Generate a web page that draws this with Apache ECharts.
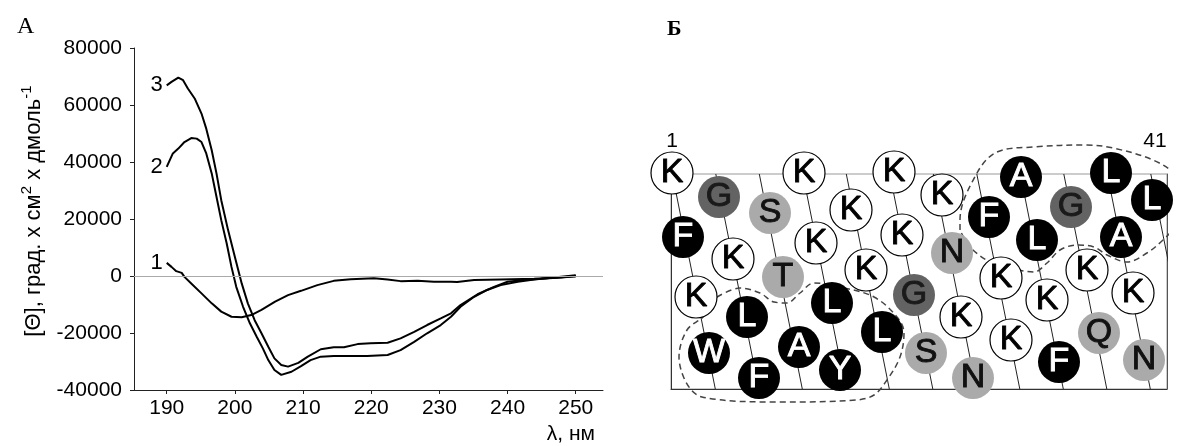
<!DOCTYPE html>
<html>
<head>
<meta charset="utf-8">
<script src="https://cdn.jsdelivr.net/npm/echarts@6.0.0/dist/echarts.min.js"></script>
<style>
  html, body { margin: 0; padding: 0; background: #fff; }
  #chart { width: 1179px; height: 446px; }
</style>
</head>
<body>
<div id="chart"></div>
<script>
// --- panel A: CD spectra, wavelength (nm) / molar ellipticity ---
const wl1 = [190.0, 190.7, 191.4, 192.2, 192.6, 193.6, 195.1, 196.6, 198.0, 199.5, 201.0, 202.4, 203.9, 205.9, 207.8, 209.7, 212.1, 214.5, 217.0, 220.4, 222.4, 224.3, 226.8, 229.2, 231.7, 231.9, 232.6, 235.1, 239.0, 243.9, 247.0, 250.0];
const theta1 = [4600, 3200, 1700, 1100, -300, -2600, -6100, -9600, -12500, -14300, -14500, -13700, -11900, -9000, -6700, -5200, -3200, -1700, -1100, -800, -1200, -1800, -1700, -2000, -2000, -1400, -2100, -1400, -1200, -1000, -600, -200];

const wl2 = [190.0, 190.9, 191.7, 192.6, 193.6, 194.4, 195.1, 195.8, 196.6, 197.3, 198.0, 198.8, 199.5, 200.2, 201.2, 202.2, 203.2, 204.1, 204.9, 205.8, 206.8, 208.3, 209.7, 211.1, 212.6, 214.5, 217.0, 219.4, 222.4, 224.3, 226.3, 228.2, 230.2, 231.7, 233.1, 235.1, 237.0, 239.0, 241.5, 243.9, 246.8, 250.0];
const theta2 = [38300, 43000, 44700, 47000, 48400, 48200, 47000, 43000, 36000, 27800, 19600, 11400, 3200, -3800, -10800, -16600, -21300, -25400, -29500, -33000, -34700, -33600, -31600, -29500, -28300, -28100, -28100, -28100, -27700, -26000, -23100, -20100, -17200, -14300, -10800, -7300, -4900, -3200, -2000, -1200, -500, 300];

const wl3 = [190.0, 190.7, 191.7, 192.4, 193.1, 194.1, 195.1, 195.8, 196.6, 197.3, 198.0, 199.0, 200.0, 201.0, 201.9, 202.9, 203.9, 204.9, 205.8, 206.8, 207.8, 209.3, 210.7, 212.6, 214.5, 216.0, 218.0, 219.9, 222.4, 224.3, 226.3, 228.2, 230.2, 231.7, 233.1, 235.6, 238.0, 240.0, 242.4, 244.9, 247.8, 250.0];
const theta3 = [66900, 68100, 69600, 68700, 65800, 62300, 57000, 51700, 44100, 36000, 26600, 16100, 6700, -2600, -9600, -15500, -20100, -24800, -28900, -31200, -31800, -30500, -28300, -25700, -25000, -25000, -23900, -23600, -23400, -21900, -19600, -17200, -14900, -13100, -10200, -6400, -3800, -2000, -1400, -1000, -500, 100];

const curveNames = ['1', '2', '3'];
const xTicks = [190, 200, 210, 220, 230, 240, 250];

// --- panel Б: helical net (units: px inside the net frame, y down) ---
const netLetters = ['K', 'G', 'S', 'K', 'F', 'K', 'T', 'K', 'K', 'K', 'K', 'L', 'A', 'L', 'K', 'K', 'K', 'W', 'F', 'Y', 'L', 'G', 'N', 'F', 'A', 'S', 'K', 'K', 'L', 'G', 'L', 'N', 'K', 'K', 'K', 'A', 'L', 'F', 'Q', 'K', 'N'];
const netX = [1, 48, 99, 133, 12, 62, 112, 145, 180, 223, 25, 76, 128, 161, 195, 231, 271, 38, 88, 169, 211, 243, 281, 318, 350, 255, 290, 330, 366, 400, 440, 302, 340, 376, 416, 450, 481, 388, 428, 462, 473];
const netY = [-1, 23, 39, -1, 63, 85, 103, 69, 36, -2, 123, 143, 173, 129, 96, 61, 21, 179, 204, 196, 158, 121, 79, 43, 3, 179, 143, 104, 66, 33, -1, 204, 166, 126, 96, 63, 26, 188, 159, 119, 186];
const netLineTop = [1.3, 44.8, 88.3, 131.8, 175.3, 218.8, 262.3, 305.8, 349.3, 392.8, 436.3, 479.8];
const netLineBottom = [44.3, 87.8, 131.3, 174.8, 218.3, 261.8, 305.3, 348.8, 392.3, 435.8, 479.3, 522.8];
const patchLower = [[46, 123], [69, 114], [89, 119], [103, 128], [116, 129], [129, 119], [143, 109], [169, 113], [203, 123], [226, 143], [233, 159], [229, 183], [216, 206], [203, 221], [185, 226], [110, 228], [31, 223], [8, 183], [16, 156], [33, 142], [46, 123]];
const patchUpper = [[289, 56], [289, 46], [306, -1], [326, -22], [362, -27], [416, -29], [442, -26], [482, -14], [508, 3], [524, 26], [508, 49], [492, 66], [476, 79], [456, 88], [436, 81], [423, 73], [406, 71], [389, 76], [376, 89], [363, 98], [339, 94], [319, 88], [299, 73], [289, 56]];

const hydrophobic = ['F', 'L', 'W', 'A', 'Y'];
const polar = ['S', 'T', 'N', 'Q'];

const sans = '"Liberation Sans", Arial, sans-serif';
const serif = '"Liberation Serif", "Times New Roman", serif';

function zip(xs, ys) {
  return xs.map((x, i) => [x, ys[i]]);
}

function groupOf(letter) {
  if (letter === 'G') return 'gly';
  if (hydrophobic.includes(letter)) return 'hyd';
  if (polar.includes(letter)) return 'pol';
  return 'lys';
}

const circleStyles = {
  lys: { fill: '#ffffff', border: '#000', borderWidth: 1.2, text: '#000' },
  hyd: { fill: '#000000', border: '#000', borderWidth: 0, text: '#fff' },
  gly: { fill: '#636363', border: '#636363', borderWidth: 0, text: '#1a1a1a' },
  pol: { fill: '#aaaaaa', border: '#aaaaaa', borderWidth: 0, text: '#111' },
};

const curveSeries = [
  [wl1, theta1],
  [wl2, theta2],
  [wl3, theta3],
].map(([xs, ys], i) => ({
  type: 'line',
  name: curveNames[i],
  xAxisIndex: 0,
  yAxisIndex: 0,
  data: zip(xs, ys),
  symbol: 'circle',
  symbolSize: 0,
  lineStyle: { color: '#000', width: 2 },
  itemStyle: { color: '#000' },
  label: {
    show: true,
    position: 'left',
    distance: 4,
    fontSize: 22,
    fontFamily: sans,
    color: '#000',
    formatter: (p) => (p.dataIndex === 0 ? curveNames[i] : ''),
  },
  markLine: i === 0 ? {
    silent: true,
    symbol: ['none', 'none'],
    label: { show: false },
    lineStyle: { color: '#aaa', width: 1, type: 'solid' },
    data: [{ yAxis: 0 }],
  } : undefined,
  z: 3,
}));

const netLineSeries = netLineTop.map((top, i) => ({
  type: 'line',
  xAxisIndex: 1,
  yAxisIndex: 1,
  data: [[top, 0], [netLineBottom[i], 215]],
  symbol: 'none',
  clip: true,
  lineStyle: { color: '#222', width: 1 },
  z: 1,
}));

const patchSeries = [patchLower, patchUpper].map((pts) => ({
  type: 'line',
  xAxisIndex: 1,
  yAxisIndex: 1,
  data: pts,
  symbol: 'none',
  smooth: 0.35,
  clip: false,
  lineStyle: { color: '#444', width: 1.5, type: [6, 4] },
  z: 2,
}));

const circleSeries = Object.keys(circleStyles).map((g) => {
  const st = circleStyles[g];
  const data = [];
  netLetters.forEach((letter, i) => {
    if (groupOf(letter) === g) data.push({ value: [netX[i], netY[i]], name: letter });
  });
  return {
    type: 'scatter',
    xAxisIndex: 1,
    yAxisIndex: 1,
    data,
    symbol: 'circle',
    symbolSize: 42,
    clip: false,
    itemStyle: { color: st.fill, borderColor: st.border, borderWidth: st.borderWidth, opacity: 1 },
    label: {
      show: true,
      position: 'inside',
      formatter: (p) => p.name,
      fontSize: 34,
      fontFamily: sans,
      color: st.text,
      textBorderColor: st.text,
      textBorderWidth: 0.9,
    },
    z: 4,
  };
});

const chart = echarts.init(document.getElementById('chart'));

chart.setOption({
  animation: false,
  backgroundColor: '#fff',
  grid: [
    { left: 134, right: 576, top: 48, bottom: 56 },
    { left: 671, top: 174, width: 496, height: 215, show: true, borderColor: '#999', borderWidth: 1 },
  ],
  xAxis: [
    {
      type: 'value',
      gridIndex: 0,
      min: 185.2,
      max: 254,
      splitLine: { show: false },
      axisLine: { onZero: false, lineStyle: { color: '#222', width: 1 } },
      axisTick: { customValues: xTicks, length: 4, lineStyle: { color: '#222' } },
      axisLabel: { customValues: xTicks, fontSize: 21, fontFamily: sans, color: '#000', margin: 8 },
      name: 'λ, нм',
      nameLocation: 'end',
      nameGap: -8,
      nameTextStyle: { fontSize: 21, fontFamily: sans, color: '#000', align: 'right', verticalAlign: 'top', padding: [34, 0, 0, 0] },
    },
    {
      type: 'value',
      gridIndex: 1,
      min: 0,
      max: 496,
      position: 'bottom',
      splitLine: { show: false },
      axisLine: { show: true, onZero: false, lineStyle: { color: '#333', width: 1 } },
      axisTick: { show: false },
      axisLabel: { show: false },
    },
  ],
  yAxis: [
    {
      type: 'value',
      gridIndex: 0,
      min: -40000,
      max: 80000,
      interval: 20000,
      splitLine: { show: false },
      axisLine: { show: true, onZero: false, lineStyle: { color: '#222', width: 1 } },
      axisTick: { show: true, length: 4, lineStyle: { color: '#222' } },
      axisLabel: { fontSize: 21, fontFamily: sans, color: '#000', margin: 12, formatter: (v) => String(v) },
      name: '{a|[Θ], град. x см}{s|2}{a| x дмоль}{s|-1}',
      nameLocation: 'middle',
      nameGap: 89,
      nameTextStyle: {
        fontFamily: sans,
        color: '#000',
        padding: [0, 0, 0, 16],
        rich: {
          a: { fontSize: 22, fontFamily: sans, color: '#000', lineHeight: 26, verticalAlign: 'bottom' },
          s: { fontSize: 15, fontFamily: sans, color: '#000', lineHeight: 15, verticalAlign: 'top' },
        },
      },
    },
    {
      type: 'value',
      gridIndex: 1,
      min: 0,
      max: 215,
      inverse: true,
      position: 'left',
      splitLine: { show: false },
      axisLine: { show: true, onZero: false, lineStyle: { color: '#333', width: 1 } },
      axisTick: { show: false },
      axisLabel: { show: false },
    },
    {
      type: 'value',
      gridIndex: 1,
      min: 0,
      max: 215,
      inverse: true,
      position: 'right',
      splitLine: { show: false },
      axisLine: { show: true, onZero: false, lineStyle: { color: '#555', width: 1 } },
      axisTick: { show: false },
      axisLabel: { show: false },
    },
  ],
  graphic: [
    { type: 'text', left: 17, top: 15, style: { text: 'A', font: '24px ' + serif, fill: '#000' } },
    { type: 'text', left: 667, top: 18, style: { text: 'Б', font: 'bold 22px ' + serif, fill: '#000' } },
    { type: 'text', x: 672, y: 141, z: 100, style: { text: '1', font: '21px ' + sans, fill: '#000', align: 'center', verticalAlign: 'middle' } },
    { type: 'text', x: 1155, y: 141, z: 100, style: { text: '41', font: '21px ' + sans, fill: '#000', align: 'center', verticalAlign: 'middle' } },
  ],
  series: [...curveSeries, ...netLineSeries, ...patchSeries, ...circleSeries],
});
</script>
</body>
</html>
